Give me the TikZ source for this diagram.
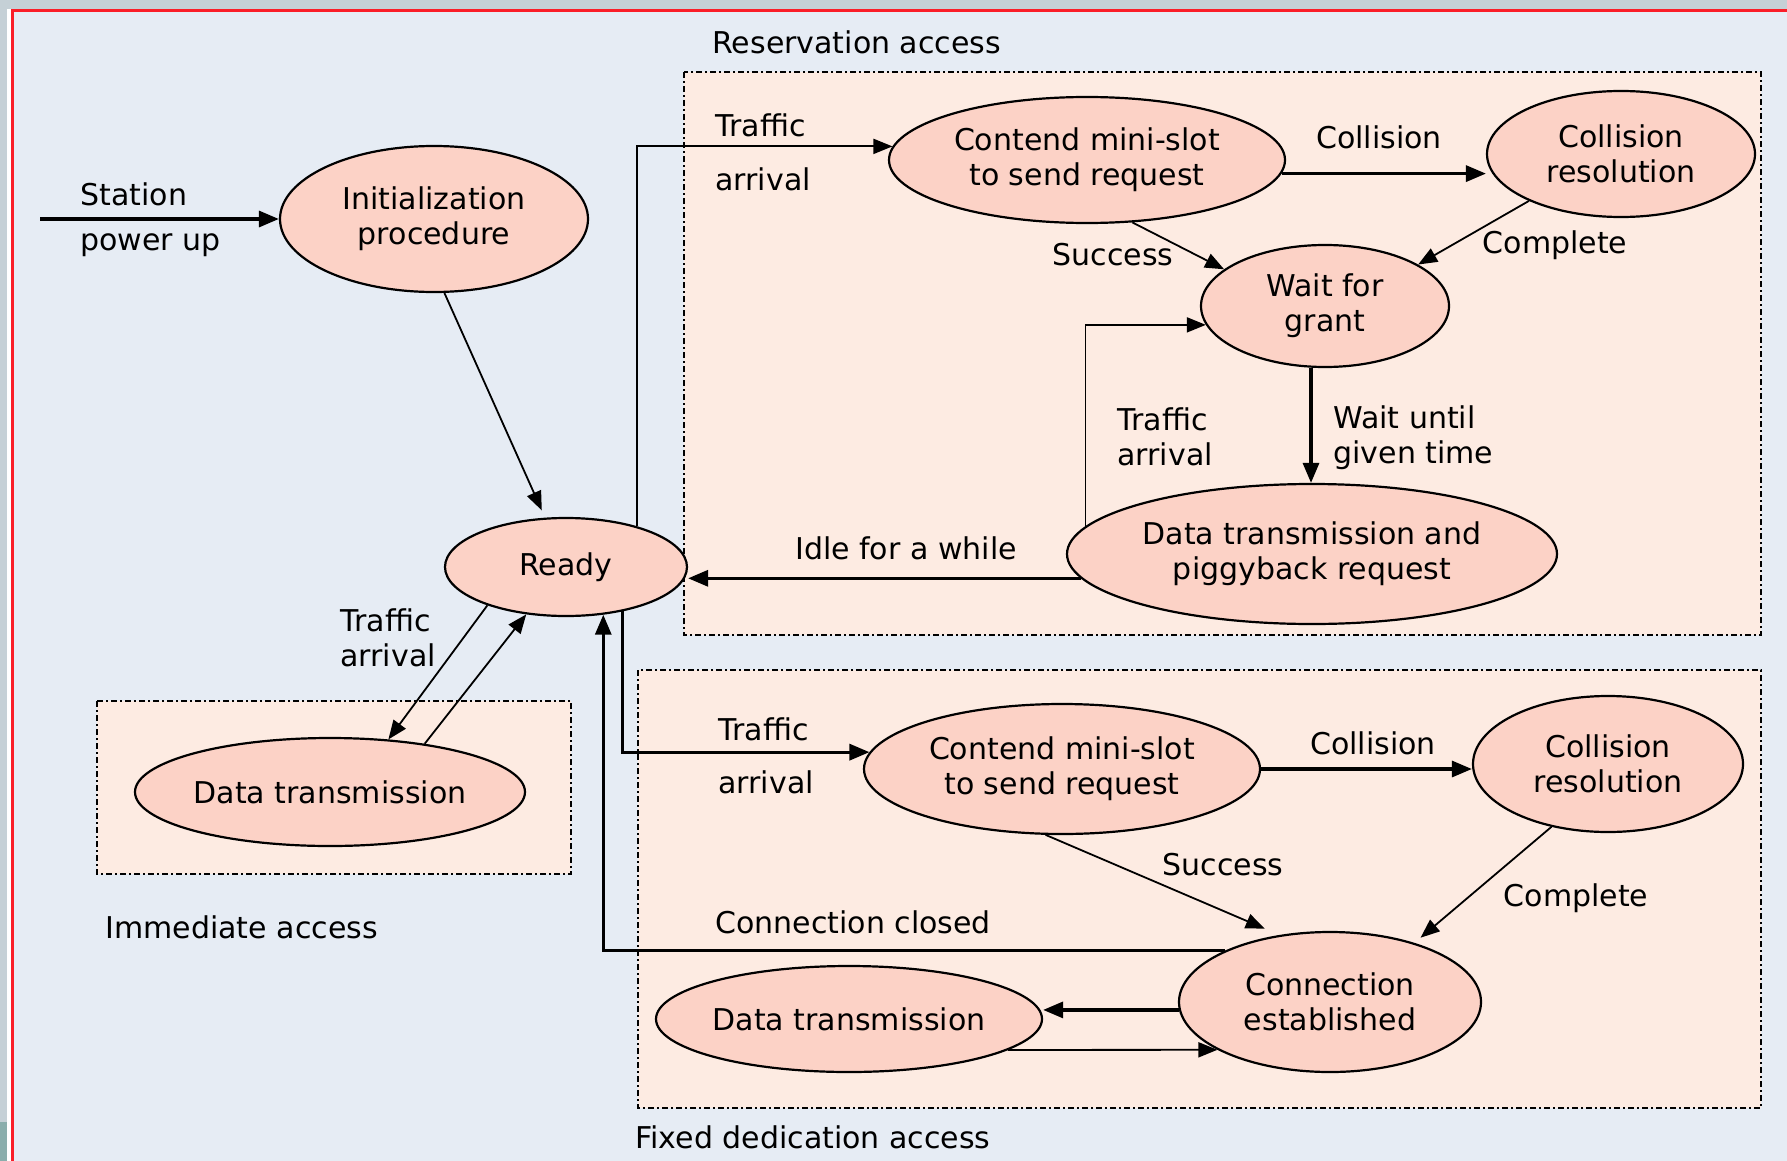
\documentclass[tikz,border=0pt]{standalone}
\usepackage{fontspec}
\setmainfont{DejaVu Sans}
\usetikzlibrary{arrows.meta,shapes.geometric}
\definecolor{bg}{RGB}{230,236,244}
\definecolor{boxfill}{RGB}{253,235,226}
\definecolor{ellfill}{RGB}{252,210,198}
\definecolor{strip}{RGB}{197,208,214}
\definecolor{redline}{RGB}{250,30,40}
\definecolor{tealstrip}{RGB}{138,174,172}
\begin{document}
\begin{tikzpicture}[x=0.5pt,y=-0.5pt,
 state/.style={ellipse,draw=black,line width=1.1pt,fill=ellfill,inner sep=0pt,align=center,font=\fontsize{15}{17.5}\selectfont},
 lbl/.style={font=\fontsize{15}{17.5}\selectfont,inner sep=0pt,align=left},
 region/.style={draw=black,fill=boxfill,line width=1pt,dash pattern=on 3pt off 1.5pt on 1pt off 1.5pt},
 thickar/.style={line width=1.6pt,-{Triangle[length=10pt,width=8pt]}},
 thinar/.style={line width=0.9pt,-{Triangle[length=9.5pt,width=7.5pt]}},
]
\useasboundingbox (0,0) rectangle (1787,1161);
% frame
\fill[bg] (0,0) rectangle (1787,1161);
\fill[strip] (0,0) rectangle (1787,9);
\fill[strip] (0,0) rectangle (7,1161);
\fill[tealstrip] (0,1122) rectangle (7,1161);
\fill[white] (7,9) rectangle (11,1161);
\fill[redline] (11,9) rectangle (1787,12);
\fill[redline] (11,9) rectangle (14,1161);

% regions
\path[region] (684,72) rectangle (1761,635);
\path[region] (638,670) rectangle (1761,1108);
\path[region] (97,701) rectangle (571,874);

\node[lbl,anchor=west] (lres) at (712,42) {Reservation access};
\node[lbl,anchor=west] (lfix) at (635,1137) {Fixed dedication access};
\node[lbl,anchor=west] (limm) at (105,927) {Immediate access};

% states
\node[state,minimum width=154pt,minimum height=73pt] (init) at (434,219) {Initialization\\procedure};
\node[state,minimum width=121pt,minimum height=49pt] (ready) at (566,567) {Ready};
\node[state,minimum width=195pt,minimum height=54pt] (dti) at (330,792) {Data transmission};
\node[state,minimum width=198pt,minimum height=63pt] (cres) at (1087,160) {Contend mini-slot\\to send request};
\node[state,minimum width=134pt,minimum height=63pt] (ccol) at (1621,154) {Collision\\resolution};
\node[state,minimum width=124pt,minimum height=61pt] (wait) at (1325,306) {Wait for\\grant};
\node[state,minimum width=245pt,minimum height=70pt] (dtp) at (1312,554) {Data transmission and\\piggyback request};
\node[state,minimum width=198pt,minimum height=65pt] (cfix) at (1062,769) {Contend mini-slot\\to send request};
\node[state,minimum width=135pt,minimum height=68pt] (ffix) at (1608,764) {Collision\\resolution};
\node[state,minimum width=151pt,minimum height=70pt] (conn) at (1330,1002) {Connection\\established};
\node[state,minimum width=193pt,minimum height=53pt] (dtf) at (849,1019) {Data transmission};

% connectors
\coordinate (sp) at (40,219);
\draw[thickar] (sp) -- (init.west);
\node[lbl,anchor=west] (lsta) at (80,194) {Station};
\node[lbl,anchor=west] (lpow) at (80,245) {power up};

\draw[thinar,shorten >=4pt] (init.-82) -- (ready.113);

\draw[thinar] (ready.30) |- (cres.176);
\node[lbl,anchor=west] (lta1a) at (715,125) {Traffic};
\node[lbl,anchor=west] (lta1b) at (715,179) {arrival};

\draw[thickar] (cres.-4) -- (cres.-4 -| ccol.west);
\node[lbl] (lcol1) at (1379,137) {Collision};

\draw[thinar] (cres.-54) -- (wait.160);
\node[lbl] (lsuc1) at (1113,255) {Success};

\draw[thinar] (ccol.207) -- (wait.24);
\node[lbl] (lcom1) at (1555,245) {Complete};

\coordinate (xw) at (1311,0);
\draw[thickar] (wait.south -| xw) -- (dtp.north -| xw);
\node[lbl,anchor=west] (lwait) at (1333,438) {Wait until\\given time};

\draw[thinar] (dtp.173) |- (wait.189);
\node[lbl,anchor=west] (lta2) at (1117,437) {Traffic\\arrival};

\draw[thickar] (dtp.186) -- (dtp.186 -| ready.east);
\node[lbl] (lidle) at (906,548) {Idle for a while};

\draw[thinar] (ready.206) -- (dti.42);
\draw[thinar] (dti.27) -- (ready.230);
\node[lbl,anchor=west] (lta3) at (340,638) {Traffic\\arrival};

\draw[thickar] (ready.-38) |- (cfix.175);
\node[lbl,anchor=west] (lta4a) at (718,729) {Traffic};
\node[lbl,anchor=west] (lta4b) at (718,782) {arrival};

\draw[thickar] (cfix.east) -- (cfix.east -| ffix.west);
\node[lbl] (lcol2) at (1373,743) {Collision};

\draw[thinar,shorten >=8pt] (cfix.-104) -- (conn.127);
\node[lbl] (lsuc2) at (1223,865) {Success};

\draw[thinar,shorten >=4pt] (ffix.228) -- (conn.35);
\node[lbl] (lcom2) at (1576,898) {Complete};

\draw[thickar] (conn.154) -| (ready.-52);
\node[lbl,anchor=west] (lcc) at (715,922) {Connection closed};

\draw[thickar] (conn.183) -- (conn.183 -| dtf.east);
\draw[thinar] (dtf.-11) -- (conn.203);
\end{tikzpicture}
\end{document}
